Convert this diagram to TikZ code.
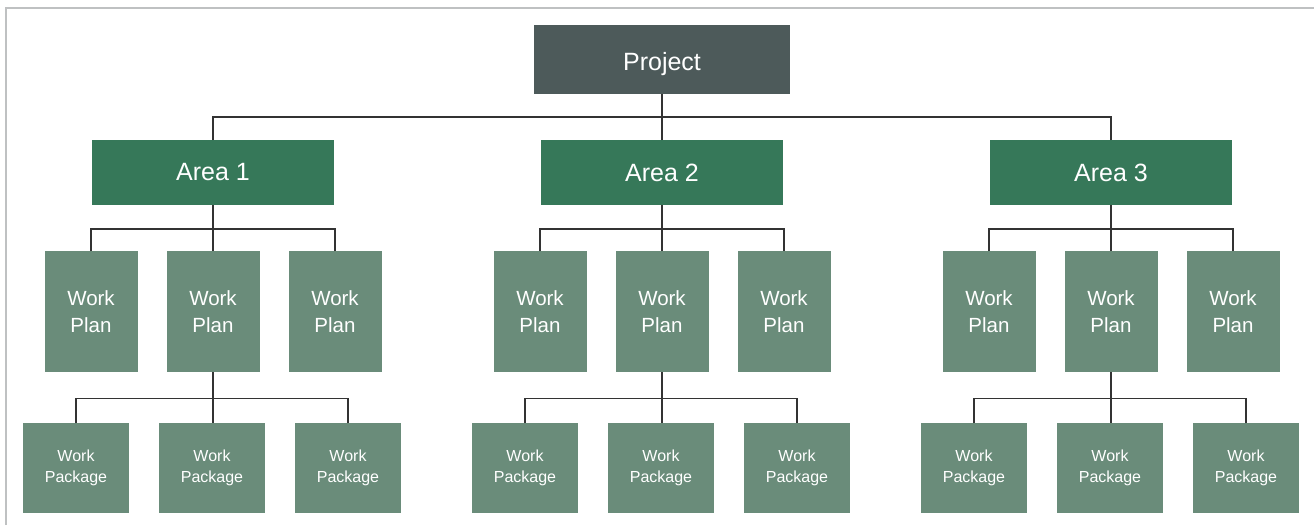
\documentclass[tikz,border=0pt]{standalone}
\usepackage{fontspec}
\setmainfont{Liberation Sans}
\definecolor{projc}{HTML}{4D5A5A}
\definecolor{areac}{HTML}{367859}
\definecolor{planc}{HTML}{6A8C7A}
\definecolor{linec}{HTML}{333333}
\definecolor{framec}{HTML}{BFC1C2}
\begin{document}
\begin{tikzpicture}[x=1pt,y=-1pt,
  box/.style={inner sep=0pt, outer sep=0pt, text=white, align=center, draw=none},
  projbox/.style={box, fill=projc, minimum width=256pt, minimum height=69pt, font=\fontsize{25}{29}\selectfont},
  areabox/.style={box, fill=areac, minimum width=242pt, minimum height=65pt, font=\fontsize{25}{29}\selectfont},
  planbox/.style={box, fill=planc, minimum width=93pt, minimum height=121pt, font=\fontsize{20.5}{27}\selectfont},
  pkgbox/.style={box, fill=planc, minimum width=106pt, minimum height=90pt, font=\fontsize{16}{20.5}\selectfont},
  conn/.style={draw=linec, line width=1.5pt}
]
\useasboundingbox (0,0) rectangle (1314,525);
\draw[framec, line width=2pt] (6,525) -- (6,8) -- (1314,8);

\node[projbox, text depth=0pt] (proj) at (662,59.5) {\raisebox{-4pt}{Project}};

\foreach \i/\cx in {1/213,2/662,3/1111}{
  \node[areabox] (a\i) at (\cx,172.5) {\raisebox{-2pt}{Area \i}};
  \node[planbox] (p\i a) at (\cx-122,311.5) {Work\\Plan};
  \node[planbox] (p\i b) at (\cx,311.5) {Work\\Plan};
  \node[planbox] (p\i c) at (\cx+122,311.5) {Work\\Plan};
  \node[pkgbox] (k\i a) at (\cx-137,468) {Work\\Package};
  \node[pkgbox] (k\i b) at (\cx-1,468) {Work\\Package};
  \node[pkgbox] (k\i c) at (\cx+135,468) {Work\\Package};
}

% project to areas
\draw[conn] (proj.south) -- ++(0,23) coordinate (pjm);
\foreach \i in {1,2,3}{
  \draw[conn] (a\i.north) |- (pjm);
  \draw[conn] (a\i.south) -- ++(0,24) coordinate (am\i);
  \draw[conn] (p\i a.north) |- (am\i);
  \draw[conn] (p\i c.north) |- (am\i);
  \draw[conn] (am\i) -- (p\i b.north);
  \draw[conn] (p\i b.south) -- ++(0,26.5) coordinate (pm\i);
  \draw[conn] (k\i a.north) |- (pm\i);
  \draw[conn] (k\i c.north) |- (pm\i);
  \draw[conn] (pm\i) -- (pm\i |- k\i b.north);
}
\end{tikzpicture}
\end{document}
